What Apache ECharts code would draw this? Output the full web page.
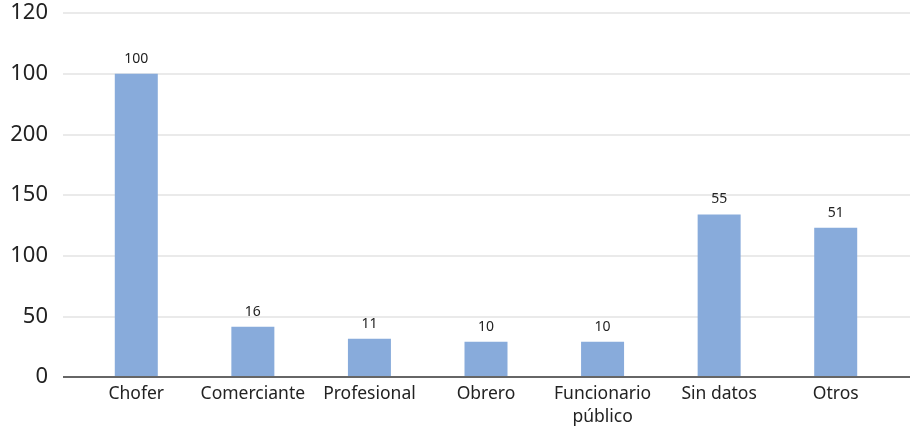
<!DOCTYPE html>
<html><head><meta charset="utf-8">
<script src="https://cdn.jsdelivr.net/npm/echarts@6/dist/echarts.min.js"></script>
<style>html,body{margin:0;padding:0;background:#fff}#c{width:911px;height:429px}</style>
</head><body><div id="c"></div>
<script>
const categories = ['Chofer', 'Comerciante', 'Profesional', 'Obrero', 'Funcionario\npúblico', 'Sin datos', 'Otros'];
const barHeights = [250, 41.5, 31.5, 29, 29, 134, 123];
const barLabels = ['100', '16', '11', '10', '10', '55', '51'];
const yTickLabels = ['0', '50', '100', '150', '200', '100', '120'];

const font = '"Noto Sans", sans-serif';
const chart = echarts.init(document.getElementById('c'));
chart.setOption({
  animation: false,
  grid: [
    { left: 63, right: 1, top: 13, bottom: 52 },
    { left: 78, right: 17, top: 13, bottom: 52 }
  ],
  xAxis: [
    { gridIndex: 0, type: 'category', data: categories, show: false },
    { gridIndex: 1, type: 'category', data: categories,
      axisLine: { show: false }, axisTick: { show: false },
      axisLabel: { color: '#222', fontSize: 17.5, fontFamily: font, margin: 6, interval: 0, lineHeight: 23 } }
  ],
  yAxis: [
    { gridIndex: 0, type: 'value', min: 0, max: 300, interval: 50,
      axisLine: { show: false }, axisTick: { show: false },
      splitLine: { lineStyle: { color: '#e3e3e3', width: 1.5 } },
      axisLabel: { color: '#222', fontSize: 22, fontFamily: font, margin: 15,
        formatter: (v) => yTickLabels[Math.round(v / 50)] } },
    { gridIndex: 1, type: 'value', min: 0, max: 300, interval: 50, show: false }
  ],
  series: [
    { type: 'bar', xAxisIndex: 0, yAxisIndex: 0, data: [], silent: true,
      markLine: { symbol: 'none', silent: true, label: { show: false },
        lineStyle: { color: '#666', width: 2, type: 'solid' }, data: [{ yAxis: 0 }] } },
    { type: 'bar', xAxisIndex: 1, yAxisIndex: 1, data: barHeights, barWidth: 43,
      itemStyle: { color: '#88abdb' },
      label: { show: true, position: 'top', distance: 8, color: '#222', fontSize: 14, fontFamily: font,
        formatter: (p) => barLabels[p.dataIndex] } }
  ]
});
</script></body></html>
